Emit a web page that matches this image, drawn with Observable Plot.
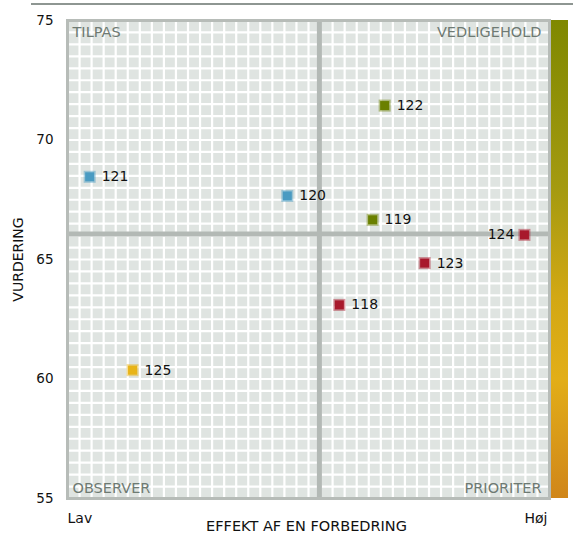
<!DOCTYPE html>
<html>
<head>
<meta charset="utf-8">
<script src="https://cdn.jsdelivr.net/npm/d3@7"></script>
<script src="https://cdn.jsdelivr.net/npm/@observablehq/plot@0.6"></script>
<style>
  body { margin: 0; background: #fff; }
  #wrap { position: relative; width: 573px; height: 541px; font-family: "DejaVu Sans", sans-serif; }
  #topline { position: absolute; left: 31px; top: 3px; width: 542px; height: 2px; background: #8e9692; }
  #ramp { position: absolute; left: 551px; top: 20px; width: 17px; height: 478px;
    background: linear-gradient(to bottom, #7f8800 0%, #a49a10 35%, #d2a814 58%, #e2ae18 75%, #d0861a 100%); }
</style>
</head>
<body>
<div id="wrap"><div id="topline"></div><div id="ramp"></div></div>
<script>
// Data
const ids    = ["121", "120", "122", "119", "124", "123", "118", "125"];
const effekt = [4.6, 45.6, 65.8, 63.3, 94.8, 74.1, 56.4, 13.5];
const vurdering = [68.46, 67.66, 71.44, 66.66, 66.03, 64.85, 63.1, 60.37];
const groups = ["TILPAS", "TILPAS", "VEDLIGEHOLD", "VEDLIGEHOLD", "PRIORITER", "PRIORITER", "PRIORITER", "OBSERVER"];
const groupNames = ["TILPAS", "VEDLIGEHOLD", "PRIORITER", "OBSERVER"];
const groupColors = ["#4a9bc2", "#6a8000", "#a8192c", "#e8b418"];
const yTicks = [55, 60, 65, 70, 75];
const xTickLabels = ["Lav", "Høj"];
const yLabel = "VURDERING";
const xLabel = "EFFEKT AF EN FORBEDRING";

const data = ids.map((id, i) => ({id, x: effekt[i], y: vurdering[i], g: groups[i]}));
const meanX = d3.mean(effekt);
const meanY = d3.mean(vurdering);
const labelLeft = data.filter(d => d.id === "124");
const labelRight = data.filter(d => d.id !== "124");

const font = "DejaVu Sans, sans-serif";
const quadColor = "#6e7a73";
const ink = "#111";

const chart = Plot.plot({
  width: 573,
  height: 541,
  marginLeft: 67,
  marginRight: 24,
  marginTop: 20,
  marginBottom: 43,
  style: {fontFamily: font, fontSize: "13px", background: "transparent", overflow: "visible"},
  x: {domain: [0, 100], axis: null},
  y: {domain: [55, 75], axis: null},
  color: {domain: groupNames, range: groupColors},
  marks: [
    Plot.frame({fill: "#dfe4e1", stroke: null}),
    Plot.ruleX(d3.range(2.5, 100, 2.5), {stroke: "#fff", strokeWidth: 2.2}),
    Plot.ruleY(d3.range(55.5, 75, 0.5), {stroke: "#fff", strokeWidth: 2.2}),
    Plot.ruleX([meanX], {stroke: "#b3b9b5", strokeWidth: 5}),
    Plot.ruleY([meanY], {stroke: "#b3b9b5", strokeWidth: 5}),
    Plot.frame({stroke: "#b7bcb8", strokeWidth: 3}),
    Plot.axisY({ticks: yTicks, tickSize: 0, tickPadding: 14, label: null, fontSize: 13.5, fill: ink}),
    Plot.text([yLabel], {frameAnchor: "left", textAnchor: "middle", lineAnchor: "middle", rotate: -90, dx: -49, fontSize: 14, fill: ink}),
    Plot.text([xLabel], {frameAnchor: "bottom", textAnchor: "middle", dx: -2, dy: 32, fontSize: 14.5, fill: ink}),
    Plot.text([xTickLabels[0]], {frameAnchor: "bottom-left", textAnchor: "start", dy: 24, fontSize: 14, fill: ink}),
    Plot.text([xTickLabels[1]], {frameAnchor: "bottom-right", textAnchor: "end", dy: 24, dx: -2, fontSize: 14, fill: ink}),
    Plot.text([groupNames[0]], {frameAnchor: "top-left", dx: 5, dy: 6, fontSize: 14.5, fill: quadColor, textAnchor: "start"}),
    Plot.text([groupNames[1]], {frameAnchor: "top-right", dx: -8, dy: 6, fontSize: 14.5, fill: quadColor, textAnchor: "end"}),
    Plot.text([groupNames[3]], {frameAnchor: "bottom-left", dx: 5, dy: -6, fontSize: 14.5, fill: quadColor, textAnchor: "start"}),
    Plot.text([groupNames[2]], {frameAnchor: "bottom-right", dx: -8, dy: -6, fontSize: 14.5, fill: quadColor, textAnchor: "end"}),
    Plot.dot(data, {x: "x", y: "y", fill: "g", symbol: "square", r: 6.8, fillOpacity: 0.45}),
    Plot.dot(data, {x: "x", y: "y", fill: "g", symbol: "square", r: 5.1}),
    Plot.text(labelRight, {x: "x", y: "y", text: "id", dx: 12, textAnchor: "start", fontSize: 14, fill: ink}),
    Plot.text(labelLeft, {x: "x", y: "y", text: "id", dx: -10, textAnchor: "end", fontSize: 14, fill: ink})
  ]
});
chart.style.position = "absolute";
chart.style.left = "0px";
chart.style.top = "0px";
document.getElementById("wrap").appendChild(chart);
</script>
</body>
</html>
